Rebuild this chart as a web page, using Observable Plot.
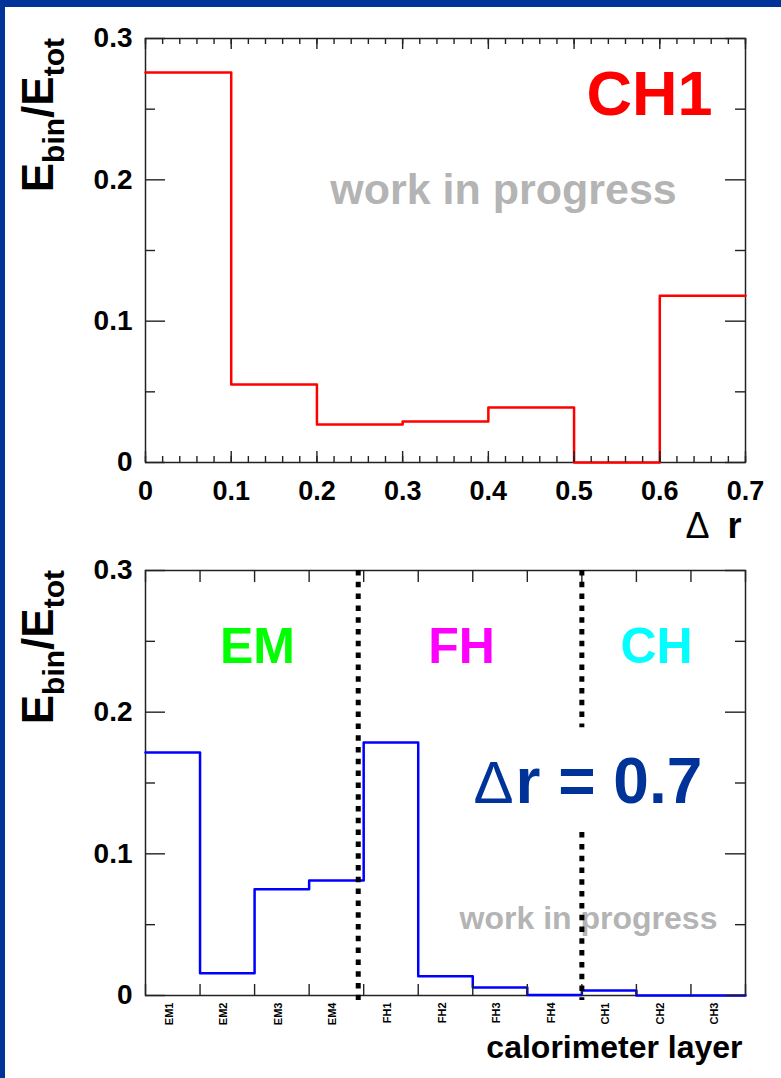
<!DOCTYPE html>
<html><head><meta charset="utf-8">
<script src="https://cdn.jsdelivr.net/npm/d3@7"></script>
<script src="https://cdn.jsdelivr.net/npm/@observablehq/plot@0.6"></script>
<style>
html,body{margin:0;padding:0;background:#fff;}
#wrap{position:relative;width:781px;height:1078px;background:#fff;overflow:hidden;}
#bt{position:absolute;left:0;top:0;width:781px;height:7px;background:#003399;}
#bl{position:absolute;left:0;top:0;width:5px;height:1078px;background:#003399;}
#p1{position:absolute;left:0;top:0;}
#p2{position:absolute;left:0;top:540px;}
svg{overflow:visible;}
</style></head><body>
<div id="wrap"><div id="p1"></div><div id="p2"></div><div id="bt"></div><div id="bl"></div></div>
<script>
// ---- data ----
const drEdges = [0, 0.1, 0.2, 0.3, 0.4, 0.5, 0.6, 0.7];
const drValues = [0.276, 0.0552, 0.0269, 0.029, 0.0389, 0, 0.118];
const drTickLabels = [0, 0.1, 0.2, 0.3, 0.4, 0.5, 0.6, 0.7];
const layers = ["EM1","EM2","EM3","EM4","FH1","FH2","FH3","FH4","CH1","CH2","CH3"];
const layerValues = [0.1715, 0.0157, 0.075, 0.0812, 0.1786, 0.0136, 0.0056, 0.0003, 0.0035, 0, 0];
const yTickLabels = [0, 0.1, 0.2, 0.3];
const yMinorTicks = [0.05, 0.15, 0.25];
const regionLabels = ["EM", "FH", "CH"];
const regionColors = ["#00ff00", "#ff00ff", "#00ffff"];
// divider lines between calorimeter sections (x in layer-bin units, y extent in data units)
const dividerX = [3.9, 8, 8];
const dividerTop = [0.3, 0.3, 0.115];
const dividerBottom = [-0.0035, 0.189, -0.0035];

// ---- layout ----
const FONT = "'Liberation Sans', Arial, Helvetica, sans-serif";
const W = 781;
const M1 = {top: 38, right: 36, bottom: 78, left: 145}, H1 = 540;
const M2 = {top: 30, right: 36, bottom: 83, left: 145}, H2 = 538;
const PW = W - M1.left - M1.right;
const PH1 = H1 - M1.top - M1.bottom;
const PH2 = H2 - M2.top - M2.bottom;
const AX = "#222";

const fmt = d => d === 0 ? "0" : d.toFixed(1);

function label(txt, o) {
  return Plot.text([txt], {
    text: d => d, frameAnchor: "top-left", dx: o.dx, dy: o.dy,
    fontSize: o.size, fill: o.color || "#000", fontWeight: o.weight || "bold",
    textAnchor: o.anchor || "middle", lineAnchor: "bottom", fontFamily: FONT
  });
}

function yTicksMarks(PH) {
  return [
    Plot.tickY(yTickLabels, {y: d => d, stroke: AX, strokeWidth: 1.4, insetRight: PW - 20}),
    Plot.tickY(yMinorTicks, {y: d => d, stroke: AX, strokeWidth: 1.4, insetRight: PW - 10}),
    Plot.tickY(yTickLabels, {y: d => d, stroke: AX, strokeWidth: 1.4, insetLeft: PW - 20}),
    Plot.tickY(yMinorTicks, {y: d => d, stroke: AX, strokeWidth: 1.4, insetLeft: PW - 10}),
    Plot.axisY({ticks: yTickLabels, tickSize: 0, tickPadding: 13, tickFormat: fmt, fontSize: 28,
      fontWeight: "bold", label: null, fill: "#000", fontFamily: FONT})
  ];
}

function addYTitle(svg, top) {
  const t = d3.select(svg).append("text")
    .attr("transform", `translate(53,${top}) rotate(-90)`)
    .attr("text-anchor", "end")
    .attr("font-family", FONT).attr("font-weight", "bold")
    .attr("font-size", 44).attr("fill", "#000");
  t.append("tspan").text("E");
  t.append("tspan").attr("font-size", 30).attr("dy", 11).text("bin");
  t.append("tspan").attr("dy", -11).text("/E");
  t.append("tspan").attr("font-size", 30).attr("dy", 11).text("tot");
}

// ---- plot 1 : Δr profile ----
const pts1 = drEdges.map((e, i) => ({x: e, y: drValues[Math.min(i, drValues.length - 1)]}));
const minorDr = d3.range(0, 0.7001, 0.02);

const p1 = Plot.plot({
  width: W, height: H1,
  marginTop: M1.top, marginRight: M1.right, marginBottom: M1.bottom, marginLeft: M1.left,
  style: {fontFamily: FONT, background: "transparent", overflow: "visible"},
  x: {domain: [0, 0.7]}, y: {domain: [0, 0.3]},
  marks: [
    Plot.frame({stroke: AX, strokeWidth: 1.5}),
    Plot.line(pts1, {x: "x", y: "y", curve: "step-after", stroke: "#ff0000", strokeWidth: 2.5}),
    Plot.tickX(minorDr, {x: d => d, stroke: AX, strokeWidth: 1.4, insetTop: PH1 - 6}),
    Plot.tickX(drTickLabels, {x: d => d, stroke: AX, strokeWidth: 1.4, insetTop: PH1 - 11}),
    Plot.tickX(minorDr, {x: d => d, stroke: AX, strokeWidth: 1.4, insetBottom: PH1 - 6}),
    Plot.tickX(drTickLabels, {x: d => d, stroke: AX, strokeWidth: 1.4, insetBottom: PH1 - 11}),
    ...yTicksMarks(PH1),
    Plot.axisX({ticks: drTickLabels, tickSize: 0, tickPadding: 18, tickFormat: fmt, fontSize: 27,
      fontWeight: "bold", label: null, fill: "#000", fontFamily: FONT}),
    label("CH1", {dx: 504, dy: 76, size: 63, color: "#ff0000"}),
    label("work in progress", {dx: 358, dy: 165, size: 43, color: "#b4b4b4"}),
    label("Δ", {dx: 540, dy: 499, size: 36, weight: "normal", anchor: "start"}),
    label("r", {dx: 596, dy: 499, size: 36, anchor: "end"})
  ]
});
document.getElementById("p1").appendChild(p1);
addYTitle(p1, M1.top);

// ---- plot 2 : calorimeter layers ----
const pts2 = layers.map((l, i) => ({x: i, y: layerValues[i]}));
pts2.push({x: layers.length, y: layerValues[layers.length - 1]});
const edges2 = d3.range(0, layers.length + 1);
const divs = dividerX.map((x, i) => ({x, y1: dividerTop[i], y2: dividerBottom[i]}));

const p2 = Plot.plot({
  width: W, height: H2,
  marginTop: M2.top, marginRight: M2.right, marginBottom: M2.bottom, marginLeft: M2.left,
  style: {fontFamily: FONT, background: "transparent", overflow: "visible"},
  x: {domain: [0, layers.length], axis: null}, y: {domain: [0, 0.3]},
  marks: [
    Plot.frame({stroke: AX, strokeWidth: 1.5}),
    Plot.line(pts2, {x: "x", y: "y", curve: "step-after", stroke: "#0000ff", strokeWidth: 2.5}),
    Plot.tickX(edges2, {x: d => d, stroke: AX, strokeWidth: 1.4, insetTop: PH2 - 11}),
    Plot.tickX(edges2, {x: d => d, stroke: AX, strokeWidth: 1.4, insetBottom: PH2 - 12}),
    ...yTicksMarks(PH2),
    Plot.text(layers, {x: (d, i) => i + 0.5, text: d => d, frameAnchor: "bottom", rotate: -90,
      textAnchor: "end", dy: 7, fontSize: 11, fontWeight: "bold", fill: "#000", fontFamily: FONT}),
    label("work in progress", {dx: 443, dy: 358, size: 32, color: "#b4b4b4"}),
    Plot.ruleX(divs, {x: "x", y1: "y1", y2: "y2", stroke: "#000", strokeWidth: 5,
      strokeDasharray: "5.5,6.3"}),
    ...regionLabels.map((r, i) => label(r, {dx: [112, 316, 511][i], dy: 92, size: 50, color: regionColors[i]})),
    label("Δ", {dx: 368, dy: 232, size: 60, color: "#003399", weight: "normal", anchor: "end"}),
    label("r = 0.7", {dx: 370, dy: 232, size: 64, color: "#003399", anchor: "start"}),
    label("calorimeter layer", {dx: 597, dy: 487, size: 32, anchor: "end"})
  ]
});
document.getElementById("p2").appendChild(p2);
addYTitle(p2, M2.top);
</script>
</body></html>
